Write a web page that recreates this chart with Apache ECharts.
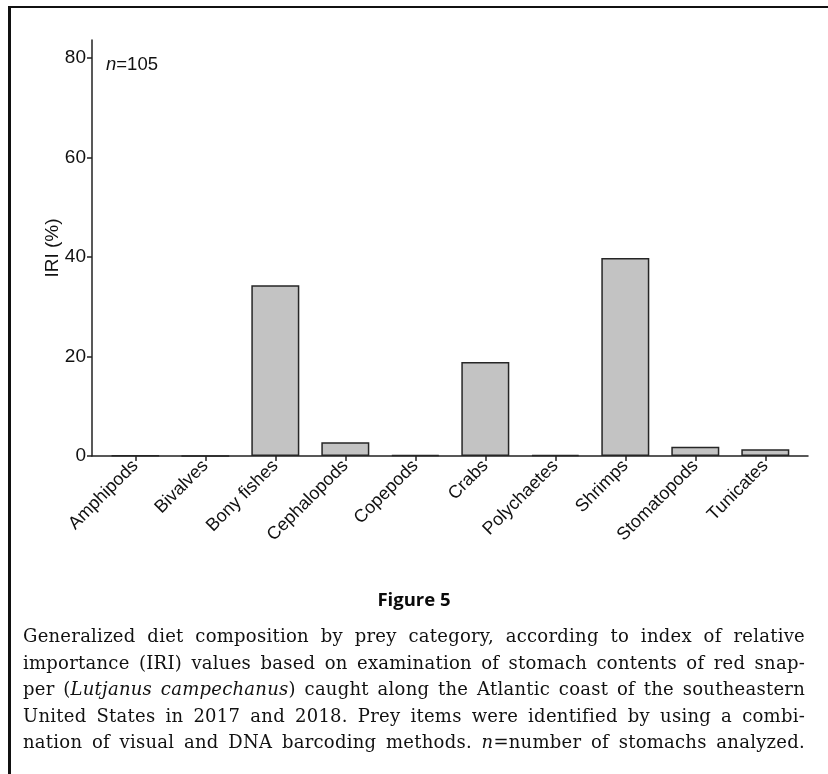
<!DOCTYPE html>
<html>
<head>
<meta charset="utf-8">
<script src="https://cdn.jsdelivr.net/npm/echarts@6/dist/echarts.min.js"></script>
<style>
  html, body { margin: 0; padding: 0; background: #fff; }
  #wrap { position: relative; width: 828px; height: 774px; overflow: hidden; background: #fff; }
  #frame { position: absolute; left: 8px; top: 6px; width: 830px; height: 780px;
           border-left: 3px solid #111; border-top: 2px solid #111; box-sizing: border-box; }
  #chart { position: absolute; left: 0; top: 0; width: 828px; height: 774px; }
  #caption { position: absolute; left: 23px; top: 623px; width: 782px;
             font-family: "DejaVu Serif", "Liberation Serif", serif; font-size: 18px;
             letter-spacing: 0.25px; line-height: 26.5px; color: #111; }
  #caption div { text-align: justify; text-align-last: justify; white-space: nowrap; }
</style>
</head>
<body>
<div id="wrap">
  <div id="chart"></div>
  <div id="frame"></div>
  <div id="caption">
    <div>Generalized diet composition by prey category, according to index of relative</div>
    <div>importance (IRI) values based on examination of stomach contents of red snap-</div>
    <div>per (<i>Lutjanus campechanus</i>) caught along the Atlantic coast of the southeastern</div>
    <div>United States in 2017 and 2018. Prey items were identified by using a combi-</div>
    <div>nation of visual and DNA barcoding methods. <i>n</i>=number of stomachs analyzed.</div>
  </div>
</div>
<script>
// Prey categories and their index of relative importance (%)
const categories = ['Amphipods', 'Bivalves', 'Bony fishes', 'Cephalopods', 'Copepods',
                    'Crabs', 'Polychaetes', 'Shrimps', 'Stomatopods', 'Tunicates'];
const iriValues = [0.08, 0.05, 34.3, 2.75, 0.2, 18.9, 0.25, 39.8, 1.87, 1.35];
const yTicks = [0, 20, 40, 60, 80];
const sampleSize = 105;

const catIndex = categories.map((_, i) => i);
const axisColor = '#222';
const textColor = '#111';

const chart = echarts.init(document.getElementById('chart'), null, { renderer: 'canvas' });
chart.setOption({
  animation: false,
  backgroundColor: 'transparent',
  title: [
    {
      text: '{i|n}=' + sampleSize,
      left: 101, top: 50,
      textStyle: {
        fontFamily: 'Liberation Sans', fontSize: 18.5, fontWeight: 'normal', color: textColor,
        rich: { i: { fontStyle: 'italic', fontFamily: 'Liberation Sans', fontSize: 18.5, color: textColor } }
      }
    },
    {
      text: 'Figure 5',
      left: 'center', top: 586,
      textStyle: { fontFamily: 'Open Sans', fontSize: 18.5, fontWeight: 'bold', color: '#0a0a0a' }
    }
  ],
  grid: { left: 92, right: 20, top: 40, bottom: 318, containLabel: false },
  xAxis: {
    type: 'value',
    min: -0.619, max: 9.61,
    splitLine: { show: false },
    axisLine: { show: true, onZero: false, lineStyle: { color: axisColor, width: 1.5 } },
    axisTick: { show: true, customValues: catIndex, length: 5, lineStyle: { color: axisColor, width: 1.5 } },
    axisLabel: {
      customValues: catIndex,
      formatter: v => categories[Math.round(v)] || '',
      rotate: 45, margin: 7,
      fontFamily: 'Liberation Sans', fontSize: 18, color: textColor
    }
  },
  yAxis: {
    type: 'value',
    min: 0, max: 83.6,
    name: 'IRI (%)', nameLocation: 'middle', nameRotate: 90, nameGap: 30,
    nameMoveOverlap: false,
    nameTextStyle: { fontFamily: 'Liberation Sans', fontSize: 19, color: textColor },
    splitLine: { show: false },
    axisLine: { show: true, onZero: false, lineStyle: { color: axisColor, width: 1.5 } },
    axisTick: { show: true, customValues: yTicks, length: 5, lineStyle: { color: axisColor, width: 1.5 } },
    axisLabel: {
      customValues: yTicks, margin: 6,
      fontFamily: 'Liberation Sans', fontSize: 19, color: textColor
    }
  },
  series: [{
    type: 'bar',
    data: iriValues.map((v, i) => [i, v]),
    barWidth: 48,
    itemStyle: { color: '#c3c3c3', borderColor: '#262626', borderWidth: 1.5 }
  }]
});
</script>
</body>
</html>
